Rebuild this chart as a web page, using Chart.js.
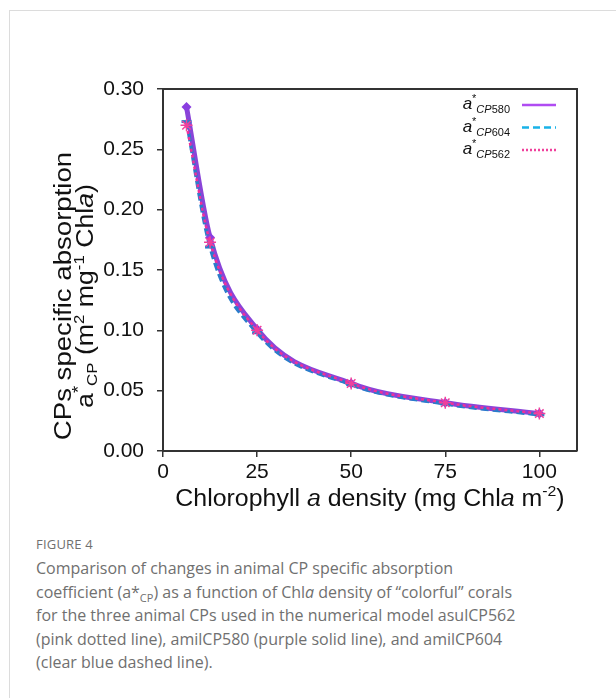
<!DOCTYPE html>
<html>
<head>
<meta charset="utf-8">
<script src="https://cdn.jsdelivr.net/npm/chart.js@4/dist/chart.umd.min.js"></script>
<style>
  html, body { margin: 0; padding: 0; background: #fff; }
  body { width: 616px; height: 698px; position: relative; overflow: hidden; }
  .card { position: absolute; left: 9px; top: 10px; width: 700px; height: 800px;
          border-top: 1px solid #dcdcdc; border-left: 1px solid #dcdcdc; }
  #wrap { position: absolute; left: 0; top: 0; width: 616px; height: 530px; }
  .caption { position: absolute; left: 36px; top: 535px; color: #707070;
             font-family: "Open Sans", sans-serif; white-space: nowrap; }
  .caption .fig { font-size: 13px; letter-spacing: 0.2px; margin-bottom: 4px; }
  .caption .body { font-size: 16px; line-height: 23.5px; }
  .caption .sub { font-size: 11px; position: relative; top: 4px; line-height: 0; }
</style>
</head>
<body>
<div class="card"></div>
<div id="wrap"><canvas id="chart"></canvas></div>
<div class="caption">
  <div class="fig">FIGURE 4</div>
  <div class="body">Comparison of changes in animal CP specific absorption<br>coefficient (a*<span class="sub">CP</span>) as a function of Chl<i>a</i> density of “colorful” corals<br>for the three animal CPs used in the numerical model asulCP562<br>(pink dotted line), amilCP580 (purple solid line), and amilCP604<br>(clear blue dashed line).</div>
</div>
<script>
// Chla density (mg Chla m-2)
const chlaDensity = [6.25, 12.5, 25, 50, 75, 100];
// specific absorption a*CP (m2 mg-1 Chla)
const cp580 = [0.285, 0.177, 0.101, 0.056, 0.040, 0.031];
const cp604 = [0.273, 0.169, 0.098, 0.055, 0.039, 0.030];
const cp562 = [0.270, 0.173, 0.100, 0.056, 0.040, 0.031];
const seriesNames = ["CP580", "CP604", "CP562"];
const xTicks = [0, 25, 50, 75, 100];

const FONT = '"Liberation Sans", Arial, Helvetica, sans-serif';
const AXIS = "#333";

function pts(ys) {
  return chlaDensity.map((x, i) => ({ x: x, y: ys[i] }));
}

// Helper: draw a run of text pieces with their own fonts / offsets.
// sx stretches the run along its own direction (the figure's font is wide)
function drawRich(ctx, parts, x, y, align, sx) {
  sx = sx || 1;
  let w = 0;
  parts.forEach(p => { ctx.font = p.f; p.w = ctx.measureText(p.t).width; w += p.w; });
  ctx.save();
  ctx.translate(x, y);
  ctx.scale(sx, 1);
  let cx = align === "center" ? -w / 2 : align === "right" ? -w : 0;
  ctx.textAlign = "left";
  ctx.textBaseline = "alphabetic";
  parts.forEach(p => { ctx.font = p.f; ctx.fillText(p.t, cx, p.dy || 0); cx += p.w; });
  ctx.restore();
}

// Frame, axis titles and the legend (rich text the library can't do)
const decorPlugin = {
  id: "decor",
  beforeDatasetsDraw(chart) {
    const { ctx, chartArea: a } = chart;
    ctx.save();
    ctx.strokeStyle = AXIS;
    ctx.lineWidth = 2;
    ctx.beginPath();
    ctx.moveTo(a.left, a.top);
    ctx.lineTo(a.right, a.top);
    ctx.lineTo(a.right, a.bottom);
    ctx.stroke();
    ctx.restore();
  },
  afterDraw(chart) {
    const { ctx, chartArea: a } = chart;
    ctx.save();
    ctx.fillStyle = "#111";
    const cx = (a.left + a.right) / 2;
    drawRich(ctx, [
      { t: "Chlorophyll ", f: `23.5px ${FONT}` },
      { t: "a", f: `italic 23.5px ${FONT}` },
      { t: " density (mg Chl", f: `23.5px ${FONT}` },
      { t: "a", f: `italic 23.5px ${FONT}` },
      { t: " m", f: `23.5px ${FONT}` },
      { t: "-2", f: `15px ${FONT}`, dy: -10 },
      { t: ")", f: `23.5px ${FONT}` },
    ], cx, 506, "center", 1.06);

    // y title, two rotated lines
    const yc = 296;
    ctx.save();
    ctx.translate(71, yc);
    ctx.rotate(-Math.PI / 2);
    drawRich(ctx, [{ t: "CPs specific absorption", f: `23px ${FONT}` }], 0, 0, "center", 1.2);
    ctx.restore();
    ctx.save();
    ctx.translate(93, yc);
    ctx.rotate(-Math.PI / 2);
    drawRich(ctx, [
      { t: "a", f: `23px ${FONT}` },
      { t: "*", f: `16px ${FONT}`, dy: -9 },
      { t: "CP", f: `14.5px ${FONT}`, dy: 4 },
      { t: " (m", f: `23px ${FONT}` },
      { t: "2", f: `14.5px ${FONT}`, dy: -9 },
      { t: " mg", f: `23px ${FONT}` },
      { t: "-1", f: `14.5px ${FONT}`, dy: -9 },
      { t: " Chl", f: `23px ${FONT}` },
      { t: "a", f: `italic 23px ${FONT}` },
      { t: ")", f: `23px ${FONT}` },
    ], 0, 0, "center", 1.16);
    ctx.restore();

    // legend
    const legendColors = ["#b04cf2", "#19b2e8", "#f0409c"];
    const legendDash = [[], [7, 4], [2, 2]];
    seriesNames.forEach((name, i) => {
      const ry = 105 + i * 22.5;
      ctx.fillStyle = "#111";
      drawRich(ctx, [
        { t: "a", f: `italic 17px ${FONT}` },
        { t: "*", f: `11px ${FONT}`, dy: -7 },
        { t: name.slice(0, 2), f: `italic 11px ${FONT}`, dy: 4 },
        { t: name.slice(2), f: `11px ${FONT}`, dy: 4 },
      ], 510, ry + 4, "right");
      ctx.strokeStyle = legendColors[i];
      ctx.lineWidth = 2.5;
      ctx.setLineDash(legendDash[i]);
      ctx.beginPath();
      ctx.moveTo(522, ry);
      ctx.lineTo(556, ry);
      ctx.stroke();
    });
    ctx.restore();
  }
};

new Chart(document.getElementById("chart"), {
  type: "line",
  data: {
    datasets: [
      {
        label: "a*CP562",
        data: pts(cp562),
        borderColor: "#f0309a",
        borderWidth: 2.5,
        borderDash: [3, 3],
        cubicInterpolationMode: "monotone",
        pointStyle: "star",
        pointRadius: 6,
        pointBorderWidth: 1.5,
        pointBorderColor: "#f0409c",
        pointBackgroundColor: "rgba(240,120,190,0.4)",
        order: 0,
      },
      {
        label: "a*CP604",
        data: pts(cp604),
        borderColor: "#2a7ccb",
        borderWidth: 3.5,
        borderDash: [8, 4],
        cubicInterpolationMode: "monotone",
        pointStyle: "line",
        pointRadius: 5,
        pointBorderWidth: 3,
        pointBorderColor: "#2a7ccb",
        order: 1,
      },
      {
        label: "a*CP580",
        data: pts(cp580),
        borderColor: "#8a44d8",
        borderWidth: 5,
        cubicInterpolationMode: "monotone",
        pointStyle: "rectRot",
        pointRadius: 5,
        pointBorderWidth: 0,
        pointBackgroundColor: "#8a3ee0",
        order: 2,
      },
    ],
  },
  options: {
    responsive: true,
    maintainAspectRatio: false,
    animation: false,
    layout: { padding: { top: 89, right: 39, left: 0, bottom: 0 } },
    plugins: {
      legend: { display: false },
      tooltip: { enabled: false },
    },
    scales: {
      x: {
        type: "linear",
        min: 0,
        max: 110,
        afterFit: (s) => { s.height = 79; },
        afterBuildTicks: (s) => { s.ticks = xTicks.map(v => ({ value: v })); },
        ticks: { color: "#111", font: { family: FONT, size: 21 }, padding: 3 },
        grid: { drawOnChartArea: false, drawTicks: true, tickLength: 6, color: AXIS, lineWidth: 1.5 },
        border: { color: AXIS, width: 2 },
      },
      y: {
        min: 0,
        max: 0.30,
        afterFit: (s) => { s.width = 163; },
        ticks: {
          stepSize: 0.05,
          color: "#111",
          font: { family: FONT, size: 21 },
          padding: 13,
          callback: (v) => v.toFixed(2),
        },
        grid: { drawOnChartArea: false, drawTicks: true, tickLength: 6, color: AXIS, lineWidth: 1.5 },
        border: { color: AXIS, width: 2 },
      },
    },
  },
  plugins: [decorPlugin],
});
</script>
</body>
</html>
